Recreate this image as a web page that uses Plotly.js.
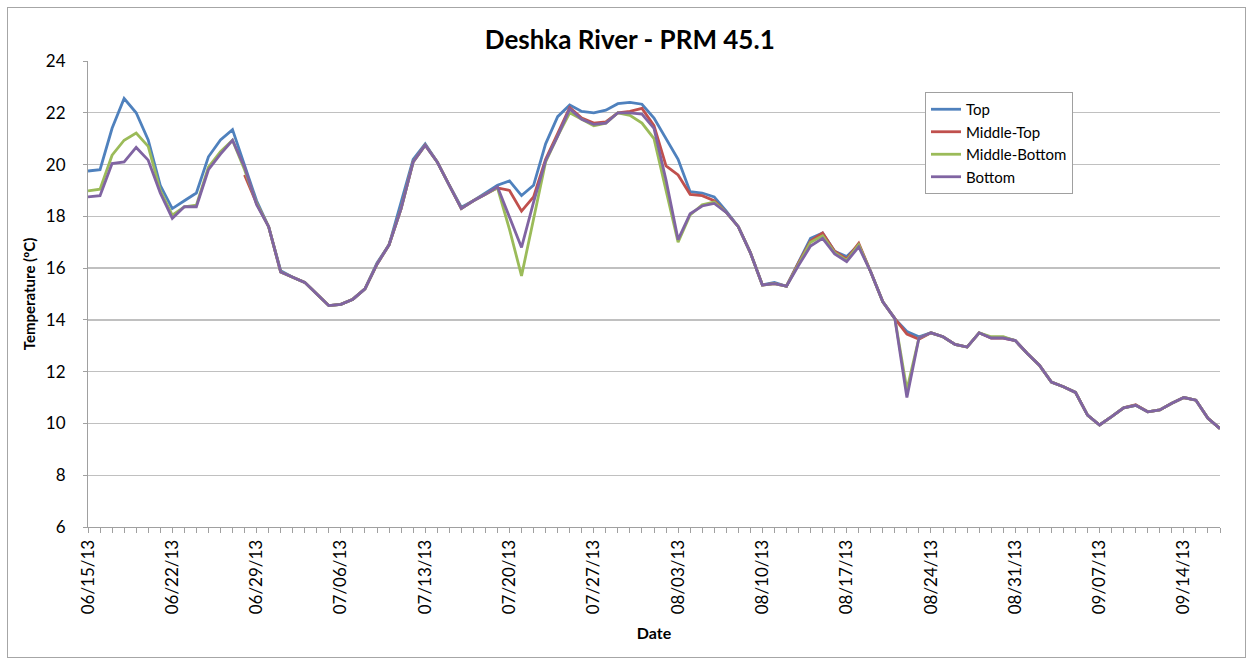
<!DOCTYPE html>
<html>
<head>
<meta charset="utf-8">
<script src="https://cdn.plot.ly/plotly-3.0.1.min.js"></script>
<style>
  html, body { margin: 0; padding: 0; background: #ffffff; }
  #chart { width: 1252px; height: 664px; }
  #frame { position: absolute; left: 7px; top: 7px; width: 1237px; height: 649px; border: 1px solid #a6a6a6; pointer-events: none; }
</style>
</head>
<body>
<div id="chart"></div>
<div id="frame"></div>
<script>
// Daily readings, 06/15/2013 through 09/17/2013
const startDate = '2013-06-15';
const dayCount = 95;

const topTemps = [19.75, 19.8, 21.4, 22.55, 22.0, 20.95, 19.2, 18.3, 18.6, 18.9,
  20.3, 20.95, 21.35, 20.0, 18.6, 17.6, 15.9, 15.65, 15.45, 15.0,
  14.55, 14.6, 14.8, 15.2, 16.2, 16.9, 18.5, 20.2, 20.8, 20.1,
  19.2, 18.35, 18.6, 18.9, 19.2, 19.37, 18.8, 19.2, 20.8, 21.85,
  22.3, 22.05, 22.0, 22.1, 22.35, 22.4, 22.33, 21.8, 21.0, 20.2,
  18.95, 18.9, 18.75, 18.2, 17.6, 16.6, 15.35, 15.45, 15.3, 16.25,
  17.15, 17.36, 16.65, 16.45, 16.9, 15.85, 14.7, 14.05, 13.55, 13.35,
  13.5, 13.35, 13.05, 12.95, 13.5, 13.32, 13.32, 13.2, 12.7, 12.25,
  11.6, 11.42, 11.2, 10.32, 9.94, 10.26, 10.6, 10.7, 10.45, 10.52,
  10.78, 11.0, 10.9, 10.2, 9.8];

const middleTopTemps = [null, null, null, null, null, null, null, null, null, null,
  null, null, null, 19.6, 18.5, 17.6, 15.85, 15.65, 15.45, 15.0,
  14.55, 14.6, 14.8, 15.2, 16.15, 16.9, 18.3, 20.1, 20.75, 20.1,
  19.2, 18.3, 18.6, 18.85, 19.1, 19.0, 18.2, 18.75, 20.2, 21.2,
  22.2, 21.8, 21.6, 21.65, 22.0, 22.05, 22.17, 21.5, 19.95, 19.6,
  18.85, 18.8, 18.6, 18.15, 17.6, 16.6, 15.35, 15.4, 15.3, 16.2,
  17.05, 17.36, 16.65, 16.35, 16.96, 15.85, 14.7, 14.05, 13.45, 13.25,
  13.5, 13.35, 13.05, 12.95, 13.5, 13.3, 13.3, 13.2, 12.7, 12.25,
  11.6, 11.42, 11.2, 10.32, 9.94, 10.26, 10.6, 10.72, 10.45, 10.52,
  10.78, 11.0, 10.9, 10.2, 9.8];

const middleBottomTemps = [18.98, 19.05, 20.36, 20.94, 21.22, 20.7, 19.0, 18.05, 18.37, 18.43,
  19.9, 20.5, 20.94, 19.8, 18.5, 17.6, 15.85, 15.65, 15.45, 15.0,
  14.55, 14.6, 14.8, 15.2, 16.15, 16.9, 18.3, 20.1, 20.75, 20.1,
  19.2, 18.3, 18.6, 18.85, 19.1, 17.5, 15.7, 17.9, 20.1, 21.1,
  22.0, 21.75, 21.5, 21.6, 22.0, 21.9, 21.6, 21.0, 19.0, 17.0,
  18.05, 18.45, 18.55, 18.15, 17.6, 16.6, 15.35, 15.4, 15.3, 16.15,
  17.0, 17.25, 16.6, 16.3, 16.9, 15.85, 14.7, 14.05, 11.3, 13.3,
  13.5, 13.35, 13.05, 12.95, 13.5, 13.35, 13.35, 13.2, 12.7, 12.25,
  11.6, 11.42, 11.2, 10.32, 9.94, 10.26, 10.6, 10.7, 10.45, 10.52,
  10.78, 11.0, 10.9, 10.2, 9.8];

const bottomTemps = [18.75, 18.8, 20.04, 20.1, 20.66, 20.17, 18.9, 17.92, 18.37, 18.37,
  19.8, 20.4, 20.94, 19.9, 18.45, 17.6, 15.85, 15.65, 15.45, 15.0,
  14.55, 14.6, 14.8, 15.2, 16.15, 16.9, 18.3, 20.1, 20.75, 20.1,
  19.2, 18.3, 18.6, 18.85, 19.14, 18.0, 16.8, 18.55, 20.15, 21.1,
  22.15, 21.75, 21.55, 21.6, 22.0, 22.0, 21.95, 21.4, 19.4, 17.1,
  18.1, 18.4, 18.5, 18.15, 17.6, 16.6, 15.35, 15.4, 15.3, 16.1,
  16.85, 17.15, 16.55, 16.25, 16.82, 15.85, 14.7, 14.05, 11.0, 13.3,
  13.5, 13.35, 13.05, 12.95, 13.5, 13.3, 13.3, 13.2, 12.7, 12.25,
  11.6, 11.42, 11.2, 10.32, 9.94, 10.26, 10.6, 10.7, 10.45, 10.52,
  10.78, 11.0, 10.9, 10.2, 9.8];

const seriesNames = ['Top', 'Middle-Top', 'Middle-Bottom', 'Bottom'];
const seriesColors = ['#4F81BD', '#C0504D', '#9BBB59', '#8064A2'];

// build the date categories
const dates = [];
{
  const d0 = new Date(startDate + 'T00:00:00Z');
  for (let i = 0; i < dayCount; i++) {
    const d = new Date(d0.getTime() + i * 86400000);
    dates.push(d.toISOString().slice(0, 10));
  }
}

const allSeries = [topTemps, middleTopTemps, middleBottomTemps, bottomTemps];
const traces = allSeries.map((vals, i) => ({
  type: 'scatter',
  mode: 'lines',
  name: seriesNames[i],
  x: dates,
  y: vals,
  connectgaps: false,
  line: { color: seriesColors[i], width: 2.8 },
  hoverinfo: 'x+y+name'
}));

const fontFam = 'Lato, "Open Sans", "Liberation Sans", sans-serif';

const layout = {
  width: 1252,
  height: 664,
  paper_bgcolor: '#ffffff',
  plot_bgcolor: '#ffffff',
  margin: { l: 88, r: 32, t: 61, b: 137 },
  font: { family: fontFam, color: '#000000' },
  title: {
    text: '<b>Deshka River - PRM 45.1</b>',
    font: { family: fontFam, size: 26, color: '#000000' },
    x: 0.503, xref: 'container', xanchor: 'center',
    y: 1 - 40 / 664, yref: 'container', yanchor: 'middle'
  },
  xaxis: {
    type: 'date',
    range: [dates[0], dates[dates.length - 1]],
    tick0: dates[0],
    dtick: 7 * 86400000,
    tickformat: '%m/%d/%y',
    tickangle: -90,
    tickfont: { family: fontFam, size: 17, color: '#000000' },
    ticks: 'outside',
    ticklen: 5,
    tickcolor: '#a0a0a0',
    minor: { dtick: 86400000, ticks: 'outside', ticklen: 5, tickcolor: '#a0a0a0', showgrid: false },
    showgrid: false,
    showline: true,
    linecolor: '#a0a0a0',
    linewidth: 1,
    zeroline: false,
    automargin: false,
    title: { text: '<b>Date</b>', font: { family: fontFam, size: 16, color: '#000000' }, standoff: 14 }
  },
  yaxis: {
    range: [6, 24],
    dtick: 2,
    tick0: 6,
    tickfont: { family: fontFam, size: 17, color: '#000000' },
    ticks: 'outside',
    ticklen: 4,
    tickcolor: '#a0a0a0',
    ticklabelstandoff: 14,
    showgrid: true,
    gridcolor: '#c0c0c0',
    gridwidth: 1.3,
    showline: true,
    linecolor: '#a0a0a0',
    linewidth: 1,
    zeroline: false,
    automargin: false,
    title: { text: '<b>Temperature (ºC)</b>', font: { family: fontFam, size: 15, color: '#000000' }, standoff: 6 }
  },
  showlegend: true,
  legend: {
    x: (925 - 88) / 1132, xanchor: 'left',
    y: (527 - 92) / 466, yanchor: 'top',
    bgcolor: '#ffffff',
    bordercolor: '#a0a0a0',
    borderwidth: 1,
    font: { family: fontFam, size: 15, color: '#000000' },
    itemwidth: 30,
    tracegroupgap: 0
  }
};

Plotly.newPlot('chart', traces, layout, { displayModeBar: false, staticPlot: true });
</script>
</body>
</html>
